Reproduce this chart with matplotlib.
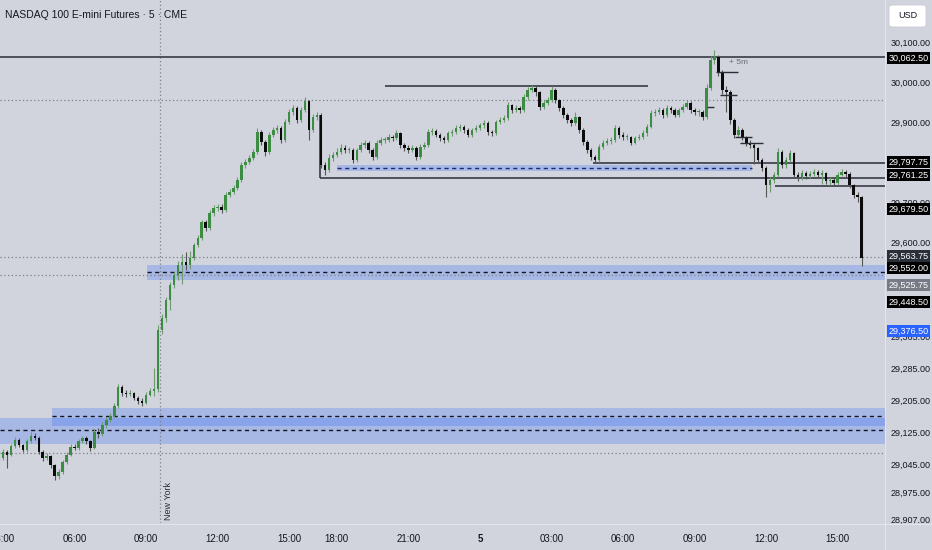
import matplotlib.pyplot as plt
from matplotlib.patches import Rectangle, FancyBboxPatch
from matplotlib.lines import Line2D

plt.rcParams['font.family'] = ['Liberation Sans', 'DejaVu Sans']

# 10-minute bars, NQ futures, 02:50 (day 4) -> 16:00 (day 5), session break removed
first_open = 29055
closes = [
    29060, 29075, 29068, 29090, 29105, 29092, 29080, 29102, 29115, 29110,
    29075, 29060, 29065, 29042, 29015, 29025, 29050, 29068, 29088, 29085,
    29102, 29110, 29102, 29085, 29125, 29120, 29142, 29155, 29165, 29190,
    29238, 29222, 29220, 29222, 29210, 29202, 29198, 29218, 29228, 29232,
    29380, 29410, 29455, 29492, 29518, 29542, 29550, 29542, 29560, 29592,
    29610, 29650, 29635, 29672, 29685, 29688, 29680, 29718, 29725, 29735,
    29755, 29792, 29800, 29810, 29825, 29875, 29850, 29825, 29868, 29880,
    29885, 29855, 29900, 29925, 29935, 29905, 29930, 29952, 29880, 29912,
    29918, 29792, 29780, 29810, 29818, 29825, 29835, 29830, 29830, 29805,
    29830, 29842, 29848, 29830, 29812, 29848, 29855, 29855, 29862, 29860,
    29872, 29842, 29835, 29830, 29835, 29812, 29838, 29842, 29875, 29878,
    29868, 29860, 29855, 29872, 29875, 29885, 29888, 29880, 29868, 29880,
    29885, 29892, 29898, 29875, 29872, 29900, 29905, 29910, 29942, 29930,
    29935, 29930, 29962, 29980, 29985, 29975, 29938, 29948, 29955, 29980,
    29955, 29935, 29918, 29905, 29898, 29912, 29880, 29850, 29830, 29812,
    29805, 29838, 29848, 29852, 29855, 29885, 29868, 29862, 29862, 29848,
    29860, 29862, 29872, 29888, 29922, 29925, 29930, 29918, 29935, 29930,
    29918, 29930, 29938, 29948, 29930, 29925, 29925, 29912, 29985, 30055,
    30062, 30025, 29980, 29975, 29905, 29868, 29880, 29862, 29848, 29842,
    29835, 29805, 29785, 29742, 29755, 29768, 29825, 29792, 29805, 29822,
    29768, 29762, 29772, 29765, 29770, 29775, 29768, 29772, 29752, 29755,
    29748, 29768, 29775, 29770, 29742, 29718, 29712, 29560,
]
highs = [
    29068, 29082, 29080, 29096, 29112, 29110, 29096, 29108, 29125, 29122,
    29114, 29080, 29072, 29068, 29046, 29032, 29055, 29074, 29094, 29096,
    29108, 29116, 29114, 29106, 29132, 29134, 29150, 29162, 29172, 29198,
    29245, 29242, 29230, 29230, 29226, 29214, 29210, 29224, 29235, 29285,
    29392, 29420, 29462, 29500, 29525, 29552, 29570, 29575, 29578, 29598,
    29618, 29656, 29655, 29680, 29692, 29695, 29696, 29725, 29732, 29742,
    29762, 29800, 29808, 29818, 29832, 29885, 29880, 29855, 29875, 29888,
    29892, 29890, 29908, 29932, 29942, 29940, 29938, 29962, 29955, 29920,
    29925, 29922, 29800, 29820, 29826, 29835, 29845, 29842, 29838, 29834,
    29836, 29850, 29855, 29852, 29835, 29855, 29862, 29862, 29870, 29868,
    29880, 29876, 29848, 29842, 29842, 29840, 29845, 29850, 29882, 29885,
    29882, 29872, 29866, 29878, 29882, 29892, 29895, 29892, 29884, 29886,
    29892, 29898, 29905, 29902, 29880, 29906, 29912, 29918, 29950, 29946,
    29942, 29940, 29970, 29988, 29992, 29990, 29978, 29955, 29962, 29990,
    29984, 29958, 29940, 29922, 29910, 29925, 29916, 29884, 29855, 29834,
    29818, 29845, 29855, 29860, 29862, 29892, 29890, 29874, 29870, 29866,
    29866, 29870, 29880, 29895, 29930, 29932, 29938, 29935, 29942, 29940,
    29935, 29936, 29945, 29955, 29952, 29936, 29932, 29930, 29995, 30065,
    30080, 30068, 30030, 29990, 29980, 29910, 29890, 29885, 29866, 29855,
    29848, 29838, 29810, 29790, 29762, 29775, 29835, 29830, 29812, 29830,
    29825, 29775, 29780, 29778, 29778, 29782, 29780, 29780, 29776, 29762,
    29760, 29775, 29782, 29780, 29775, 29746, 29725, 29716,
]
lows = [
    29050, 29055, 29035, 29064, 29086, 29088, 29074, 29076, 29098, 29104,
    29070, 29052, 29054, 29035, 29005, 29008, 29020, 29045, 29064, 29080,
    29080, 29098, 29096, 29078, 29082, 29110, 29115, 29136, 29150, 29160,
    29186, 29215, 29212, 29214, 29204, 29196, 29190, 29194, 29214, 29215,
    29225, 29370, 29400, 29430, 29485, 29505, 29495, 29530, 29532, 29555,
    29588, 29605, 29628, 29630, 29666, 29678, 29672, 29676, 29712, 29720,
    29730, 29750, 29786, 29795, 29805, 29820, 29842, 29815, 29820, 29862,
    29872, 29848, 29850, 29895, 29918, 29898, 29900, 29925, 29855, 29875,
    29905, 29785, 29768, 29775, 29802, 29812, 29820, 29822, 29822, 29798,
    29800, 29825, 29836, 29822, 29805, 29808, 29842, 29848, 29850, 29852,
    29855, 29835, 29828, 29822, 29825, 29805, 29808, 29832, 29838, 29868,
    29862, 29852, 29848, 29850, 29866, 29870, 29878, 29872, 29862, 29862,
    29874, 29880, 29886, 29868, 29865, 29868, 29895, 29900, 29905, 29922,
    29925, 29922, 29926, 29956, 29975, 29965, 29930, 29932, 29942, 29950,
    29948, 29928, 29910, 29898, 29890, 29892, 29872, 29842, 29822, 29805,
    29798, 29800, 29832, 29842, 29845, 29850, 29860, 29855, 29855, 29842,
    29844, 29855, 29858, 29866, 29884, 29915, 29920, 29910, 29912, 29922,
    29912, 29912, 29925, 29932, 29922, 29918, 29915, 29905, 29908, 29980,
    30045, 30015, 29970, 29925, 29895, 29860, 29862, 29855, 29840, 29835,
    29795, 29798, 29778, 29712, 29725, 29748, 29762, 29785, 29786, 29800,
    29760, 29752, 29755, 29758, 29760, 29764, 29760, 29745, 29745, 29742,
    29740, 29742, 29765, 29762, 29736, 29710, 29700, 29540,
]

time_ticks = [1, 19, 37, 55, 73, 85, 103, 121, 139, 157, 175, 193, 211]
time_labels = ["03:00", "06:00", "09:00", "12:00", "15:00", "18:00", "21:00",
               "5", "03:00", "06:00", "09:00", "12:00", "15:00"]
price_ticks = [28907, 28975, 29045, 29125, 29205, 29285, 29365, 29600, 29700,
               29900, 30000, 30100]

# boxes on the price scale: text, pixel row, colour
price_boxes = [
    ("30,062.50", 58, "#000000"),
    ("29,797.75", 162, "#000000"),
    ("29,761.25", 175, "#000000"),
    ("29,679.50", 209, "#000000"),
    ("29,563.75", 256, "#2a2e39"),
    ("29,552.00", 268, "#000000"),
    ("29,525.75", 285, "#787b86"),
    ("29,448.50", 302, "#000000"),
    ("29,376.50", 331, "#2962ff"),
]

bg = "#d1d4dc"
W, H = 932, 550
fig = plt.figure(figsize=(W / 100, H / 100), dpi=100, facecolor=bg)
ax = fig.add_axes([0, (H - 523) / H, 885 / W, 523 / H])
ax.set_facecolor(bg)

x_left, x_right = 0.25, 222.9
ax.set_xlim(x_left, x_right)
ax.set_ylim(28897.5, 30205)

# zones
zone_blue = "#2962ff"
ax.fill_between([x_left, x_right], 29095, 29160, color=zone_blue, alpha=0.24, lw=0, zorder=1)
ax.fill_between([13.3, x_right], 29140, 29185, color=zone_blue, alpha=0.24, lw=0, zorder=1)
ax.fill_between([37.2, x_right], 29505, 29542, color=zone_blue, alpha=0.24, lw=0, zorder=1)
ax.fill_between([85, 189.4], 29777, 29792, color=zone_blue, alpha=0.24, lw=0, zorder=1)

dash = (0, (3, 2.5))
ax.hlines(29130, x_left, x_right, colors="#131722", linestyles=dash, lw=1, zorder=2)
ax.hlines(29165, 13.3, x_right, colors="#131722", linestyles=dash, lw=1, zorder=2)
ax.hlines(29525, 37.2, x_right, colors="#131722", linestyles=dash, lw=1, zorder=2)
ax.hlines(29785, 85, 189.4, colors="#1e2a78", linestyles=dash, lw=1, zorder=2)

# dotted levels and the New York open
dot = (0, (1, 2))
for lvl in [29955, 29563, 29517, 29072]:
    ax.hlines(lvl, x_left, x_right, colors="#7c7f88", linestyles=dot, lw=0.9, zorder=2)
ax.axvline(40.5, color="#7c7f88", linestyle=dot, lw=0.9, zorder=2)

# solid levels
ax.hlines(30062.5, x_left, x_right, colors="#2a2e39", lw=1.1, zorder=2)
ax.hlines(29990, 97, 163.3, colors="#2a2e39", lw=1.1, zorder=2)
ax.hlines(29797.75, 149.4, x_right, colors="#2a2e39", lw=1.1, zorder=2)
ax.hlines(29761.25, 80.75, x_right, colors="#2a2e39", lw=1.1, zorder=2)
ax.vlines(80.75, 29761.25, 29918, colors="#2a2e39", lw=1.1, zorder=2)
ax.hlines(29740, 195.2, x_right, colors="#2a2e39", lw=1.1, zorder=2)

# small marks around the high
for y0, a, b in [(30025, 180.5, 186), (29967, 181.3, 185.6), (29937, 178.1, 180),
                 (29862, 185.2, 189.4), (29847, 186.5, 192.2)]:
    ax.hlines(y0, a, b, colors="#2a2e39", lw=1, zorder=4)
ax.text(183.6, 30050, "+ 5m", fontsize=6, color="#6a6d78", va="center", zorder=4)

# candles
opens = [first_open] + closes[:-1]
xs = list(range(len(closes)))
up = "#3b8d41"
down = "#0b0b0b"
body_col = [up if c >= o else down for o, c in zip(opens, closes)]
wick_col = ["#6f9a72" if c >= o else "#555555" for o, c in zip(opens, closes)]
ax.vlines(xs, lows, highs, colors=wick_col, lw=0.8, zorder=3)
bottoms = [min(o, c) for o, c in zip(opens, closes)]
heights = [max(abs(c - o), 2.0) for o, c in zip(opens, closes)]
ax.bar(xs, heights, bottom=bottoms, width=0.62, color=body_col, lw=0, zorder=3)

# axes
for s in ax.spines.values():
    s.set_visible(False)
ax.yaxis.tick_right()
ax.set_yticks(price_ticks)
ax.set_yticklabels([f"{p:,.2f}" for p in price_ticks])
ax.tick_params(axis="y", length=0, pad=4, labelsize=6.5, labelcolor="#131722")
ax.set_xticks(time_ticks)
ax.set_xticklabels(time_labels)
ax.tick_params(axis="x", length=0, pad=8, labelsize=7, labelcolor="#131722")
for lab in ax.get_xticklabels():
    if lab.get_text() == "5":
        lab.set_fontweight("bold")

ax.text(41.6, 28905, "New York", rotation=90, fontsize=6.5, color="#2a2e39",
        ha="left", va="bottom", zorder=4)

# separators between the chart and the scales
fig.add_artist(Line2D([885 / W, 885 / W], [0, 1], color="#e3e5ea", lw=0.8))
fig.add_artist(Line2D([0, 1], [(H - 523.5) / H, (H - 523.5) / H], color="#e3e5ea", lw=0.8))

fig.text(5 / W, 1 - 15 / H, "NASDAQ 100 E-mini Futures · 5 · CME",
         fontsize=7.5, color="#131722", va="center", ha="left")

usd = FancyBboxPatch((889 / W, 1 - 27 / H), 37 / W, 22 / H,
                     boxstyle="round,pad=0,rounding_size=0.004",
                     transform=fig.transFigure, fc="white", ec="#c9ccd4", lw=0.6)
fig.add_artist(usd)
fig.text(907.5 / W, 1 - 16 / H, "USD", fontsize=6.5, color="#131722", ha="center", va="center")

for txt, yp, col in price_boxes:
    fig.add_artist(Rectangle((887 / W, 1 - (yp + 6) / H), 43 / W, 12 / H,
                             transform=fig.transFigure, fc=col, ec="none"))
    fig.text(908.5 / W, 1 - yp / H, txt, fontsize=6.5, color="white",
             ha="center", va="center")

fig.savefig("out.png", dpi=100, facecolor=bg)
